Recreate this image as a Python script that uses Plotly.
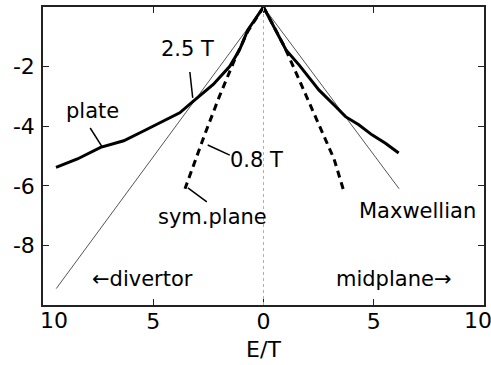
import plotly.graph_objects as go

# Maxwellian reference lines (thin)
maxw_left_x = [-9.4, 0.0]
maxw_left_y = [-9.45, 0.0]
maxw_right_x = [0.0, 6.15]
maxw_right_y = [0.0, -6.1]

# 2.5 T (thick solid) - divertor / plate side and midplane side
b25_left_x = [-9.41, -8.44, -7.39, -6.34, -5.44, -4.38, -3.8, -3.18, -2.28, -1.53, -1.08, -0.71, 0.0]
b25_left_y = [-5.38, -5.10, -4.71, -4.49, -4.16, -3.77, -3.55, -3.16, -2.60, -1.99, -1.43, -0.77, 0.0]
b25_right_x = [0.0, 1.02, 1.62, 2.52, 3.27, 3.72, 4.32, 4.92, 5.53, 6.13]
b25_right_y = [0.0, -1.44, -1.95, -2.79, -3.34, -3.68, -3.95, -4.29, -4.57, -4.90]

# 0.8 T (thick dashed) - symmetry plane side and midplane side
b08_left_x = [0.0, -0.7, -1.31, -2.0, -2.66, -3.1, -3.56]
b08_left_y = [0.0, -0.8, -1.77, -3.0, -4.27, -5.15, -6.1]
b08_right_x = [0.0, 0.95, 1.8, 2.66, 3.2, 3.65]
b08_right_y = [0.0, -1.33, -2.75, -4.2, -5.1, -6.2]

x_ticks = [-10, -5, 0, 5, 10]
x_ticklabels = ["", "5", "0", "5", ""]
x_end_labels = [(-9.48, "10"), (9.75, "10")]   # end labels sit a bit inward
y_ticks = [-2, -4, -6, -8]
y_ticklabels = ["-2", "-4", "-6", "-8"]

FONT = "DejaVu Sans"

fig = go.Figure()

fig.add_vline(x=0, line=dict(color="#b0b0b0", width=1, dash="dot"))

for xs, ys in [(maxw_left_x, maxw_left_y), (maxw_right_x, maxw_right_y)]:
    fig.add_trace(go.Scatter(x=xs, y=ys, mode="lines",
                             line=dict(color="#555555", width=1)))

for xs, ys in [(b25_left_x, b25_left_y), (b25_right_x, b25_right_y)]:
    fig.add_trace(go.Scatter(x=xs, y=ys, mode="lines",
                             line=dict(color="black", width=3)))

for xs, ys in [(b08_left_x, b08_left_y), (b08_right_x, b08_right_y)]:
    fig.add_trace(go.Scatter(x=xs, y=ys, mode="lines",
                             line=dict(color="black", width=3, dash="7px,5px")))

# leader lines for the labels
leaders = [
    (-3.34, -2.18, -3.21, -3.05),   # 2.5 T
    (-7.86, -4.06, -7.31, -4.70),   # plate
    (-2.53, -4.63, -1.53, -4.97),   # 0.8 T
    (-3.43, -6.07, -2.57, -6.54),   # sym.plane
]
for x0, y0, x1, y1 in leaders:
    fig.add_shape(type="line", x0=x0, y0=y0, x1=x1, y1=y1,
                  line=dict(color="black", width=1.5))

labels = [
    ("2.5 T", -3.43, -1.40),
    ("plate", -7.77, -3.50),
    ("0.8 T", -0.32, -5.13),
    ("sym.plane", -2.3, -7.05),
    ("Maxwellian", 7.0, -6.85),
    ("\u2190divertor", -5.5, -9.12),
    ("midplane\u2192", 5.9, -9.12),
]
for text, x, y in labels:
    fig.add_annotation(x=x, y=y, text=text, showarrow=False,
                       font=dict(family=FONT, size=21, color="black"))

for x, text in x_end_labels:
    fig.add_annotation(x=x, y=0, xref="x", yref="paper", yanchor="top",
                       text=text, showarrow=False, yshift=-1,
                       font=dict(family=FONT, size=22, color="black"))

axis_common = dict(showline=True, linecolor="#222222", linewidth=1.5, mirror="ticks",
                   ticks="inside", ticklen=6, tickcolor="#222222", showgrid=False,
                   zeroline=False, tickfont=dict(family=FONT, size=22, color="black"))

fig.update_xaxes(range=[-10, 10], tickvals=x_ticks, ticktext=x_ticklabels,
                 ticklabelstandoff=-4,
                 title=dict(text="E/T", font=dict(family=FONT, size=22, color="black"),
                            standoff=8),
                 **axis_common)
fig.update_yaxes(range=[-10, 0], tickvals=y_ticks, ticktext=y_ticklabels,
                 ticklabelstandoff=2, **axis_common)

fig.update_layout(width=491, height=365, showlegend=False,
                  margin=dict(l=43, r=5, t=7, b=60),
                  plot_bgcolor="white", paper_bgcolor="white",
                  hovermode=False)

# drop the default 8px body margin so the figure fills the window exactly
fig.write_html("out.html", config={"displayModeBar": False},
               post_script="document.body.style.margin='0';"
                           "document.body.style.overflow='hidden';")
